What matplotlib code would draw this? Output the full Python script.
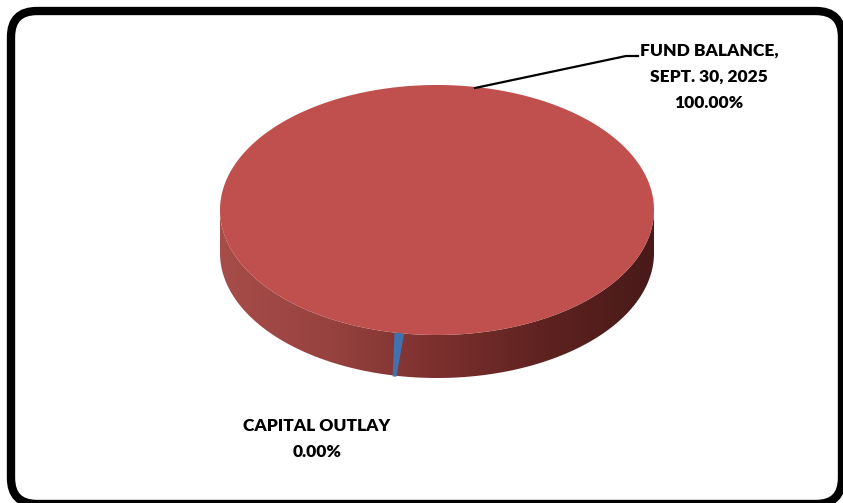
import numpy as np
import matplotlib.pyplot as plt
from matplotlib.patches import Polygon, FancyBboxPatch
from matplotlib.colors import LinearSegmentedColormap

# data
categories = ["FUND BALANCE,\nSEPT. 30, 2025", "CAPITAL OUTLAY"]
shares = [100.00, 0.00]
slice_colors = ["#c0504d", "#4172ad"]

# pie geometry (pixels)
cx, cy = 437, 210
rx, ry = 217, 125
depth = 43
start_deg = 259.0   # where the slices meet, measured ccw from 3 o'clock

fig = plt.figure(figsize=(8.43, 5.03), dpi=100)
ax = fig.add_axes([0, 0, 1, 1])
ax.set_xlim(0, 843)
ax.set_ylim(503, 0)
ax.axis("off")

# rounded frame (runs off the right and bottom edge a little)
frame = FancyBboxPatch((11, 11), 831, 493, boxstyle="round,pad=0,rounding_size=26",
                       fill=False, ec="black", lw=6.0, zorder=1, clip_on=False)
ax.add_patch(frame)

def pt(deg, dy=0.0):
    a = np.radians(deg)
    # screen y grows downward, so front half is at angles 180..360
    return cx + rx * np.cos(a), cy - ry * np.sin(a) + dy

# side wall of the cylinder (front half)
t = np.linspace(180, 360, 200)
top_edge = [pt(d) for d in t]
bot_edge = [pt(d, depth) for d in t[::-1]]
wall = Polygon(top_edge + bot_edge, closed=True, fc="none", ec="none", zorder=2)
ax.add_patch(wall)
wall_cmap = LinearSegmentedColormap.from_list(
    "wall", ["#a74d4a", "#97423f", "#7b302e", "#5e2220", "#481a19"])
grad = np.linspace(0, 1, 256).reshape(1, -1)
img = ax.imshow(grad, cmap=wall_cmap, extent=(cx - rx, cx + rx, cy + ry + depth, cy - 5),
                aspect="auto", zorder=2, interpolation="bilinear")
img.set_clip_path(wall)

# top face, one wedge per slice
total = sum(shares)
ang = start_deg
for share, col in zip(shares, slice_colors):
    span = 360.0 * share / total
    if span > 0:
        tt = np.linspace(ang, ang - span, 400)
        pts = [(cx, cy)] + [pt(d) for d in tt]
        ax.add_patch(Polygon(pts, closed=True, fc=col, ec="none", zorder=3))
    ang -= span

# the zero slice shows as a thin sliver on the side wall
a0 = start_deg
sl = [pt(a0 - 0.3), pt(a0 + 2.3), pt(a0 + 0.2, depth + 1), pt(a0 - 0.8, depth + 1)]
ax.add_patch(Polygon(sl, closed=True, fc=slice_colors[1], ec="none", zorder=4))

# labels
font = dict(family=["Lato", "DejaVu Sans"], fontweight="heavy", fontsize=12.5,
            color="black", ha="center", va="center", linespacing=1.78)
ax.plot([475, 626, 638], [88, 56, 56], color="black", lw=1.6, zorder=5)
ax.text(709, 77, categories[0] + "\n%.2f%%" % shares[0], **font)
ax.text(317, 439, categories[1] + "\n%.2f%%" % shares[1], **font)

fig.savefig("out.png", dpi=100)
